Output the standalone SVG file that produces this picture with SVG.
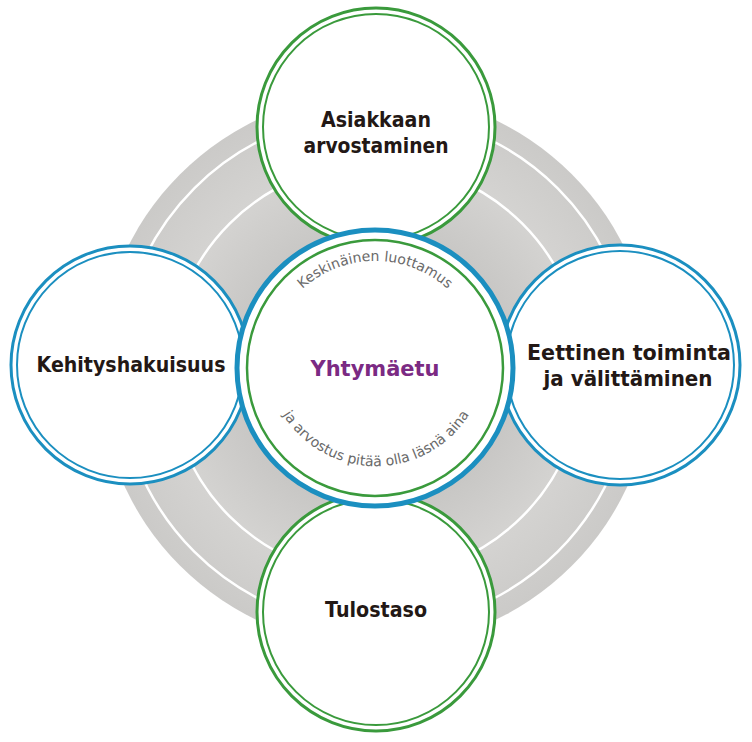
<svg xmlns="http://www.w3.org/2000/svg" width="752" height="742" viewBox="0 0 752 742">
<defs>
<radialGradient id="g" cx="376" cy="370" r="277" gradientUnits="userSpaceOnUse">
<stop offset="0.5" stop-color="#c8c7c5"/><stop offset="0.75" stop-color="#d4d3d1"/><stop offset="1" stop-color="#cbcac8"/>
</radialGradient>
<path id="arcTop" d="M 282 314 A 108 108 0 0 1 468 314"/>
<path id="arcBot" d="M 276 402 A 110 110 0 0 0 476 402"/>
<style>
.b{fill:#fff;stroke:#1b8fc0}
.gr{fill:#fff;stroke:#3a9a3c}
.t{font-family:"DejaVu Sans","Liberation Sans",sans-serif;font-weight:bold;font-size:21px;fill:#231815;text-anchor:middle}
.s{font-family:"DejaVu Sans","Liberation Sans",sans-serif;font-size:14px;fill:#6a6a6a}
</style>
</defs>
<g id="background">
<circle cx="376" cy="370" r="277" fill="url(#g)"/>
<circle cx="376" cy="370" r="257" fill="none" stroke="#fff" stroke-width="2.5"/>
<circle cx="376" cy="370" r="207" fill="none" stroke="#fff" stroke-width="2.5"/>
</g>
<g id="connectors"></g>
<g id="top">
<circle cx="376" cy="127" r="119" class="gr" stroke-width="3"/>
<circle cx="376" cy="127" r="113" fill="none" stroke="#3a9a3c" stroke-width="2"/>
<text class="t" x="376" y="127" textLength="110" lengthAdjust="spacingAndGlyphs">Asiakkaan</text>
<text class="t" x="376" y="153" textLength="145" lengthAdjust="spacingAndGlyphs">arvostaminen</text>
</g>
<g id="bottom">
<circle cx="376" cy="612" r="119" class="gr" stroke-width="3"/>
<circle cx="376" cy="612" r="113" fill="none" stroke="#3a9a3c" stroke-width="2"/>
<text class="t" x="376" y="617" textLength="102" lengthAdjust="spacingAndGlyphs">Tulostaso</text>
</g>
<g id="left">
<circle cx="130" cy="365" r="119" class="b" stroke-width="3"/>
<circle cx="130" cy="365" r="113" fill="none" stroke="#1b8fc0" stroke-width="2"/>
<text class="t" x="131" y="372" textLength="189" lengthAdjust="spacingAndGlyphs">Kehityshakuisuus</text>
</g>
<g id="right">
<circle cx="620" cy="365" r="120" class="b" stroke-width="3"/>
<circle cx="620" cy="365" r="114" fill="none" stroke="#1b8fc0" stroke-width="2"/>
<text class="t" x="629" y="360" textLength="204" lengthAdjust="spacingAndGlyphs">Eettinen toiminta</text>
<text class="t" x="628" y="386" textLength="169" lengthAdjust="spacingAndGlyphs">ja välittäminen</text>
</g>
<g id="center">
<circle cx="375" cy="368" r="138" class="b" stroke-width="5"/>
<circle cx="375" cy="368" r="128" fill="none" stroke="#3a9a3c" stroke-width="2.5"/>
<text x="375" y="376" textLength="129" lengthAdjust="spacingAndGlyphs" style="font-family:'DejaVu Sans','Liberation Sans',sans-serif;font-weight:bold;font-size:21px;fill:#7b2a83;text-anchor:middle">Yhtymäetu</text>
<text class="s"><textPath href="#arcTop" startOffset="50%" text-anchor="middle">Keskinäinen luottamus</textPath></text>
<text class="s"><textPath href="#arcBot" startOffset="50%" text-anchor="middle">ja arvostus pitää olla läsnä aina</textPath></text>
</g>
</svg>
